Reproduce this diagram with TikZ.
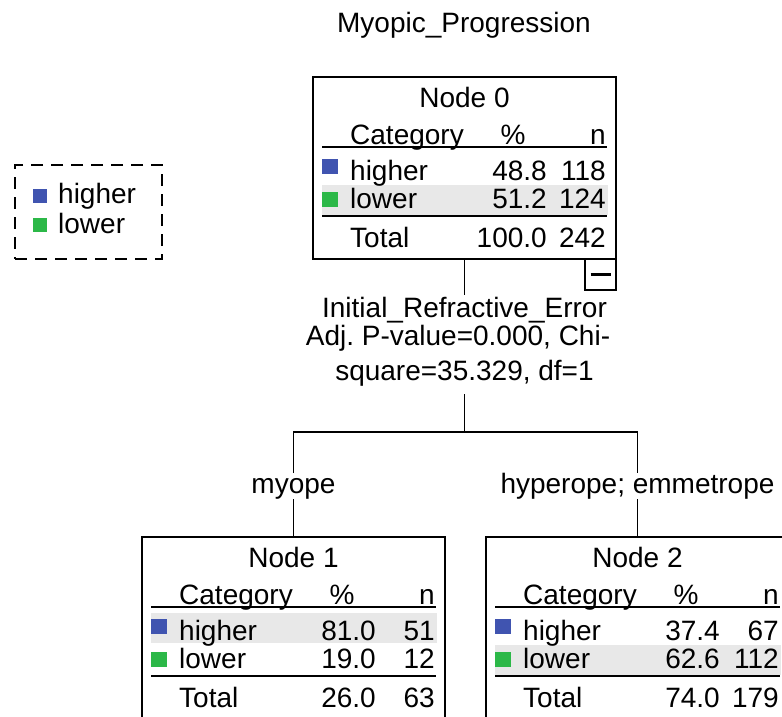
\documentclass[tikz,border=0pt]{standalone}
\usepackage{fontspec}
\setmainfont{Liberation Sans}
\frenchspacing
\definecolor{catblue}{RGB}{64,84,176}
\definecolor{catgreen}{RGB}{44,184,72}
\definecolor{rowgray}{RGB}{232,232,232}
\tikzset{
  boxnode/.style={draw, line width=1.8pt, minimum width=303pt, minimum height=182pt, inner sep=0pt, outer sep=0pt, anchor=north west},
  txt/.style={inner sep=0pt, anchor=base},
  txtl/.style={inner sep=0pt, anchor=base west},
  txtr/.style={inner sep=0pt, anchor=base east},
  rulel/.style={line width=1.8pt},
  conn/.style={line width=1.8pt},
  sqbox/.style={inner sep=0pt, outer sep=0pt, minimum width=16pt, minimum height=15pt, anchor=north west},
  splitlab/.style={inner xsep=0pt, outer sep=0pt, anchor=base, text height=20pt, text depth=6pt},
  brlab/.style={inner sep=0pt, outer sep=0pt, anchor=base, text height=20pt, text depth=6pt},
}
\newcommand\cattable[9]{%
  \fill[rowgray] (9,#9) rectangle (295,{#9+30});
  \node[boxnode] (#1) at (0,0) {};
  \node[txt] (#1-title) at (151.5,30) {Node #2};
  \node[txtl] (#1-cat) at (37,67) {Category};
  \node[txt] (#1-pcth) at (200,67) {\%};
  \node[txtr] (#1-nh) at (293,67) {n};
  \draw[rulel] (9,70) -- (294,70);
  \node[sqbox, fill=catblue] (#1-sqh) at (9,82) {};
  \node[txtl] (#1-hi) at (37,103) {higher};
  \node[txtr] (#1-hip) at (234,103) {#3};
  \node[txtr] (#1-hin) at (293,103) {#4};
  \node[sqbox, fill=catgreen] (#1-sql) at (9,115) {};
  \node[txtl] (#1-lo) at (37,131) {lower};
  \node[txtr] (#1-lop) at (234,131) {#5};
  \node[txtr] (#1-lon) at (293,131) {#6};
  \draw[rulel] (9,139) -- (294,139);
  \node[txtl] (#1-tot) at (37,170) {Total};
  \node[txtr] (#1-totp) at (234,170) {#7};
  \node[txtr] (#1-totn) at (293,170) {#8};
}
\begin{document}
\begin{tikzpicture}[x=1pt, y=-1pt, font=\fontsize{28}{32}\selectfont]
\useasboundingbox (0,0) rectangle (782,717);
\clip (0,0) rectangle (782,717);
\fill[white] (0,0) rectangle (782,717);

% title
\node[txt] (title) at (464,33) {Myopic\_Progression};

% legend
\node[draw, line width=1.6pt, dash pattern=on 12pt off 8pt, minimum width=147pt, minimum height=94pt, inner sep=0pt, outer sep=0pt, anchor=north west] (legend) at (15,165) {};
\node[sqbox, minimum width=14pt, minimum height=14pt, fill=catblue] (lgsqh) at (33,189) {};
\node[txtl] (lghi) at (58,203) {higher};
\node[sqbox, minimum width=14pt, minimum height=14pt, fill=catgreen] (lgsql) at (33,218) {};
\node[txtl] (lglo) at (58,233) {lower};

% node 0
\begin{scope}[shift={(313,77)}]
\cattable{n0}{0}{48.8}{118}{51.2}{124}{100.0}{242}{108}
\end{scope}
\node[draw, line width=1.8pt, minimum width=31pt, minimum height=31pt, inner sep=0pt, outer sep=0pt, anchor=north east] (coll) at (n0.south east) {};
\draw[line width=2.4pt] ([xshift=-10pt]coll.center) -- ([xshift=10pt]coll.center);

% split label
\node[splitlab, inner ysep=2pt] (sp1) at (464.5,317) {Initial\_Refractive\_Error};
\node[splitlab, inner ysep=0pt] (sp2) at (458,345) {Adj. P-value=0.000, Chi-};
\node[splitlab, inner ysep=8pt] (sp3) at (464.5,380) {square=35.329, df=1};
\coordinate (hj) at (464.5,432);

% branch labels
\node[brlab] (lm) at (293.5,493) {myope};
\node[brlab] (lh) at (637.5,493) {hyperope; emmetrope};

% node 1
\begin{scope}[shift={(142,537)}]
\cattable{n1}{1}{81.0}{51}{19.0}{12}{26.0}{63}{76}
\end{scope}
% node 2
\begin{scope}[shift={(486,537)}]
\cattable{n2}{2}{37.4}{67}{62.6}{112}{74.0}{179}{108}
\end{scope}

% connectors
\draw[conn] (n0.south) -- (sp1.north);
\draw[conn] (sp3.south) -- (hj);
\draw[conn] (lm.north) |- (hj) -| (lh.north);
\draw[conn] (lm.south) -- (n1.north);
\draw[conn] (lh.south) -- (n2.north);
\end{tikzpicture}
\end{document}
